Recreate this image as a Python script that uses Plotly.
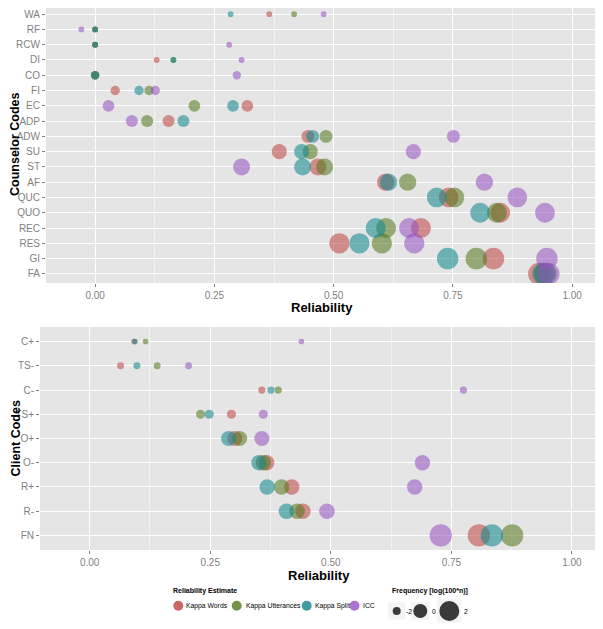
import plotly.graph_objects as go

# ---------------- data ----------------
counselor_codes = ["WA", "RF", "RCW", "DI", "CO", "FI", "EC", "ADP", "ADW", "SU",
                   "ST", "AF", "QUC", "QUO", "REC", "RES", "GI", "FA"]
counselor_kappa_words = [0.365, 0.0, 0.0, 0.129, 0.0, 0.042, 0.319, 0.154, 0.446, 0.386,
                         0.467, 0.609, 0.741, 0.849, 0.683, 0.512, 0.835, 0.931]
counselor_kappa_utterances = [0.417, 0.0, 0.0, 0.164, 0.0, 0.113, 0.208, 0.109, 0.484, 0.451,
                              0.481, 0.655, 0.753, 0.842, 0.610, 0.601, 0.799, 0.944]
counselor_kappa_split = [0.284, 0.0, 0.0, 0.164, 0.0, 0.092, 0.289, 0.185, 0.456, 0.433,
                         0.435, 0.615, 0.716, 0.807, 0.588, 0.554, 0.739, 0.940]
counselor_icc = [0.479, -0.029, 0.281, 0.307, 0.297, 0.126, 0.028, 0.077, 0.751, 0.667,
                 0.307, 0.816, 0.885, 0.943, 0.658, 0.669, 0.947, 0.950]
counselor_freq = [-2.75, -2.75, -2.7, -2.7, -1.9, -1.55, -0.75, -0.65, -0.35, 0.35,
                  1.0, 1.1, 1.9, 1.95, 2.0, 2.1, 2.5, 2.8]

client_codes = ["C+", "TS-", "C-", "TS+", "O+", "O-", "R+", "R-", "FN"]
client_kappa_words = [0.092, 0.064, 0.357, 0.294, 0.301, 0.367, 0.419, 0.442, 0.807]
client_kappa_utterances = [0.116, 0.140, 0.391, 0.230, 0.311, 0.360, 0.398, 0.430, 0.876]
client_kappa_split = [0.094, 0.098, 0.376, 0.248, 0.288, 0.351, 0.368, 0.408, 0.834]
client_icc = [0.439, 0.205, 0.775, 0.360, 0.357, 0.690, 0.674, 0.492, 0.728]
client_freq = [-2.8, -2.35, -2.25, -1.65, 0.35, 0.45, 0.5, 0.55, 2.75]

estimate_names = ["Kappa Words", "Kappa Utterances", "Kappa Split", "ICC"]
size_legend_values = [-2, 0, 2]
x_tick_values = [0.0, 0.25, 0.5, 0.75, 1.0]

# ---------------- styling ----------------
# The page body has an 8px default margin, so the figure starts at (8, 8).
OFF = 8
W, H = 603 - OFF, 629 - OFF
FONT = "Liberation Sans, Arial, Helvetica, sans-serif"
colors = ["rgba(187,68,65,0.8)", "rgba(82,120,26,0.8)",
          "rgba(12,133,140,0.8)", "rgba(149,80,193,0.8)"]
GREY = "#7F7F7F"
PANEL_BG = "#E5E5E5"


def size_px(v):
    return 14 + 3 * v


def px(x):
    return (x - OFF) / W


def py(y):
    return min(1.0, max(0.0, 1 - (y - OFF) / H))


fig = go.Figure()

panels = [
    ("x", "y", counselor_codes,
     [counselor_kappa_words, counselor_kappa_utterances, counselor_kappa_split, counselor_icc],
     counselor_freq),
    ("x2", "y2", client_codes,
     [client_kappa_words, client_kappa_utterances, client_kappa_split, client_icc],
     client_freq),
]

for xa, ya, codes, vals, freq in panels:
    for name, col, v in zip(estimate_names, colors, vals):
        fig.add_trace(go.Scatter(
            x=v, y=codes, mode="markers", name=name, xaxis=xa, yaxis=ya,
            marker=dict(color=col, size=[size_px(f) for f in freq],
                        sizemode="diameter", line=dict(width=0)),
            showlegend=False, hoverinfo="x+y+name",
        ))

xrange = [-0.103, 1.052]


def xaxis_cfg(domain):
    return dict(
        domain=domain, range=xrange, tickvals=x_tick_values,
        ticktext=["%.2f" % t for t in x_tick_values],
        showgrid=True, gridcolor="white", gridwidth=1.1,
        minor=dict(tickvals=[0.125, 0.375, 0.625, 0.875], showgrid=True,
                   gridcolor="#F2F2F2", gridwidth=0.6, ticks=""),
        ticks="outside", ticklen=3, tickcolor=GREY, tickwidth=1,
        tickfont=dict(size=10, color=GREY, family=FONT),
        zeroline=False, showline=False, automargin=False, fixedrange=True,
    )


def yaxis_cfg(panel, codes, anchor):
    # panel = (x0, x1, top, bottom); categories sit 0.6 steps inside the panel
    n = len(codes)
    top_px, bot_px = panel[2], panel[3]
    step = (bot_px - top_px) / (n - 1 + 1.2)
    first_px = top_px + 0.6 * step
    last_px = bot_px - 0.6 * step
    vis_top = max(top_px, OFF)
    r_hi = (n - 1) + (first_px - vis_top) / step
    r_lo = -(bot_px - last_px) / step
    return dict(
        domain=[py(bot_px), py(vis_top)], type="category",
        categoryarray=list(reversed(codes)),
        categoryorder="array", range=[r_lo, r_hi], anchor=anchor,
        showgrid=True, gridcolor="white", gridwidth=1.1,
        ticks="outside", ticklen=3, tickcolor=GREY, tickwidth=1,
        tickfont=dict(size=10, color=GREY, family=FONT),
        zeroline=False, showline=False, automargin=False, fixedrange=True,
    )


top = (46, 597, 5, 283)
bot = (40, 597, 327, 550)

fig.update_layout(
    width=W, height=H,
    margin=dict(l=0, r=0, t=0, b=0),
    paper_bgcolor="white", plot_bgcolor=PANEL_BG,
    showlegend=False,
    font=dict(family=FONT, color="black"),
    xaxis=dict(xaxis_cfg([px(top[0]), px(top[1])]), anchor="y"),
    yaxis=yaxis_cfg(top, counselor_codes, "x"),
    xaxis2=dict(xaxis_cfg([px(bot[0]), px(bot[1])]), anchor="y2"),
    yaxis2=yaxis_cfg(bot, client_codes, "x2"),
)

ann = []
shapes = []

# axis titles
for (x0, x1, y0, y1), ylab, xt_y in [(top, "Counselor Codes", 307.5), (bot, "Client Codes", 575.5)]:
    ann.append(dict(x=px((x0 + x1) / 2), y=py(xt_y), xref="paper", yref="paper",
                    text="<b>Reliability</b>", showarrow=False,
                    font=dict(size=13, color="black", family=FONT),
                    xanchor="center", yanchor="middle"))
    ann.append(dict(x=px(15), y=py((y0 + y1) / 2), xref="paper", yref="paper",
                    text="<b>%s</b>" % ylab, showarrow=False, textangle=-90,
                    font=dict(size=12.5, color="black", family=FONT),
                    xanchor="center", yanchor="middle"))

# colour legend
ann.append(dict(x=px(171), y=py(591), xref="paper", yref="paper",
                text="<b>Reliability Estimate</b>", showarrow=False,
                font=dict(size=7, color="black", family=FONT),
                xanchor="left", yanchor="middle"))
key_centers = [178.3, 236.7, 306.7, 354.5]
label_starts = [184.0, 243.5, 313.0, 361.0]
ky = 605.7
for name, col, cx, lx in zip(estimate_names, colors, key_centers, label_starts):
    r = 5
    shapes.append(dict(type="circle", xref="paper", yref="paper",
                       x0=px(cx - r), x1=px(cx + r), y0=py(ky + r), y1=py(ky - r),
                       fillcolor=col, line=dict(width=0)))
    ann.append(dict(x=px(lx), y=py(ky), xref="paper", yref="paper", text=name,
                    showarrow=False, font=dict(size=6.8, color="black", family=FONT),
                    xanchor="left", yanchor="middle"))

# size legend
ann.append(dict(x=px(390), y=py(591), xref="paper", yref="paper",
                text="<b>Frequency [log(100*n)]</b>", showarrow=False,
                font=dict(size=7, color="black", family=FONT),
                xanchor="left", yanchor="middle"))
s_centers = [396.7, 420.3, 449.3]
s_label = [403.5, 430.0, 462.5]
sy = 611
for v, cx, lx in zip(size_legend_values, s_centers, s_label):
    r = size_px(v) / 2
    kw = max(17.0, 2 * r + 4) / 2
    shapes.append(dict(type="rect", xref="paper", yref="paper",
                       x0=px(cx - kw), x1=px(cx + kw), y0=py(sy + kw), y1=py(sy - kw),
                       fillcolor="#F4F4F4", line=dict(width=0), layer="below"))
    shapes.append(dict(type="circle", xref="paper", yref="paper",
                       x0=px(cx - r), x1=px(cx + r), y0=py(sy + r), y1=py(sy - r),
                       fillcolor="#3A3A3A", line=dict(width=0)))
    ann.append(dict(x=px(lx), y=py(sy), xref="paper", yref="paper", text=str(v),
                    showarrow=False, font=dict(size=6.8, color="black", family=FONT),
                    xanchor="left", yanchor="middle"))

fig.update_layout(annotations=ann, shapes=shapes)

fig.write_html("out.html")
